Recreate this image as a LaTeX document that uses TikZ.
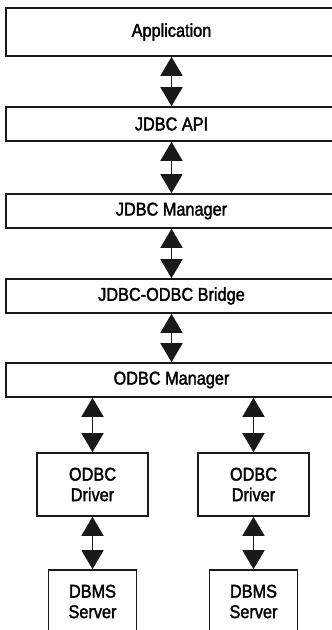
\documentclass[tikz,border=0pt]{standalone}
\usepackage{fontspec}
\setmainfont[FakeStretch=0.88, FakeBold=1.8]{Liberation Sans}
\usetikzlibrary{arrows.meta}

\tikzset{
  layer/.style={draw=black!90, line width=1.6pt, minimum width=331pt, minimum height=34pt,
    inner sep=0pt, font=\fontsize{18.5}{20}\selectfont},
  unitbox/.style={draw=black!90, line width=1.6pt, minimum height=63pt, inner sep=0pt,
    align=center, font=\fontsize{18.5}{20.5}\selectfont},
  link/.style={line width=1.6pt, black!90,
    {Triangle[width=22pt,length=19pt]}-{Triangle[width=22pt,length=19pt]}}
}

\begin{document}
\begin{tikzpicture}[x=1pt, y=-1pt]
  \useasboundingbox (0,0) rectangle (332,630);
  \clip (0,0) rectangle (332,630);

  % stacked layers
  \node[layer, minimum height=48pt] (app)    at (171.5, 32)  {Application};
  \node[layer]                      (api)    at (171.5, 124) {JDBC API};
  \node[layer]                      (jmgr)   at (171.5, 211) {JDBC Manager};
  \node[layer]                      (bridge) at (171.5, 296) {JDBC-ODBC Bridge};
  \node[layer]                      (omgr)   at (171.5, 380) {ODBC Manager};

  % drivers and servers
  \node[unitbox, minimum width=111pt] (drvA) at (92.5, 484.5) {ODBC\\Driver};
  \node[unitbox, minimum width=111pt] (drvB) at (253.5, 484.5) {ODBC\\Driver};
  \node[unitbox, minimum width=88pt]  (srvA) at (92.5, 601.5) {DBMS\\Server};
  \node[unitbox, minimum width=88pt]  (srvB) at (253.5, 601.5) {DBMS\\Server};

  % two-way links
  \draw[link] (app.south) -- (api.north);
  \draw[link] (api.south) -- (jmgr.north);
  \draw[link] (jmgr.south) -- (bridge.north);
  \draw[link] (bridge.south) -- (omgr.north);
  \draw[link] (omgr.south -| drvA.north) -- (drvA.north);
  \draw[link] (omgr.south -| drvB.north) -- (drvB.north);
  \draw[link] (drvA.south) -- (srvA.north);
  \draw[link] (drvB.south) -- (srvB.north);
\end{tikzpicture}
\end{document}
